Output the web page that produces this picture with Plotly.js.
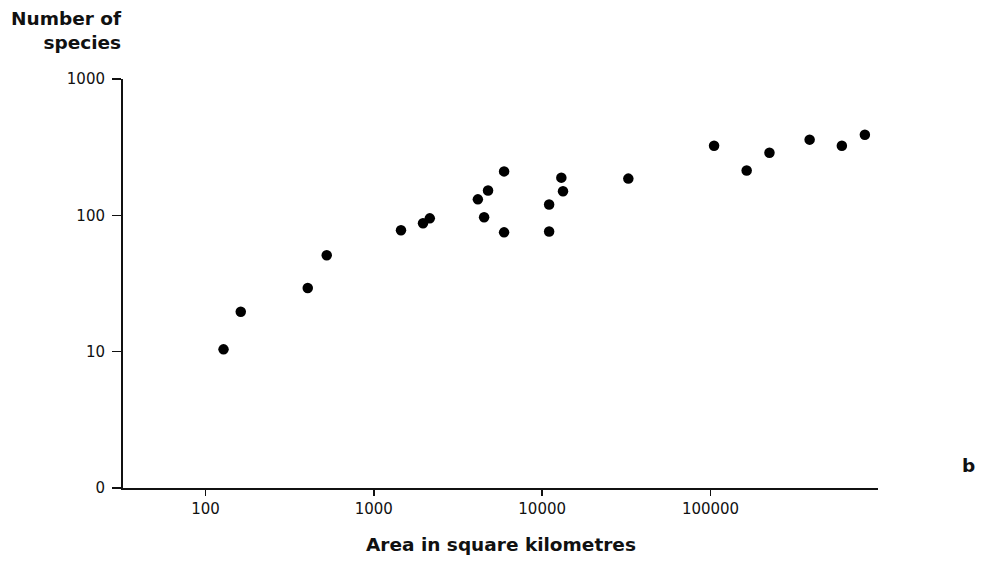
<!DOCTYPE html>
<html>
<head>
<meta charset="utf-8">
<script src="https://cdn.plot.ly/plotly-3.0.1.min.js"></script>
<style>html,body{margin:0;padding:0;background:#fff;}#chart{width:983px;height:562px;}</style>
</head>
<body>
<div id="chart"></div>
<script>
const areaKm2 = [128, 162, 405, 525, 1450, 1960, 2150, 4150, 4520, 4770, 5940, 5940, 11000, 11000, 13000, 13300, 32500, 105000, 164000, 224000, 388000, 603000, 826000];
const species = [10.4, 19.6, 29.3, 51, 77.8, 87.5, 95, 131, 96.7, 152, 210, 75, 120, 76, 189, 150, 186, 324, 213, 288, 359, 324, 390];
const xTickVals = [100, 1000, 10000, 100000];
const xTickText = ['100', '1000', '10000', '100000'];
const yTickVals = [1, 10, 100, 1000];
const yTickText = ['0', '10', '100', '1000'];

const trace = {
  x: areaKm2, y: species, type: 'scatter', mode: 'markers',
  marker: {color: '#000', size: 10.5, line: {width: 0}},
  hoverinfo: 'x+y'
};

const FONT = 'DejaVu Sans, Liberation Sans, Arial, sans-serif';

const layout = {
  width: 983, height: 562,
  margin: {l: 123, r: 105, t: 79, b: 74},
  paper_bgcolor: '#fff', plot_bgcolor: '#fff',
  showlegend: false,
  font: {family: FONT, color: '#111', size: 15},
  xaxis: {
    type: 'log', range: [1.51, 5.995],
    tickvals: xTickVals, ticktext: xTickText,
    showgrid: false, zeroline: false,
    showline: true, linecolor: '#111', linewidth: 2,
    ticks: 'outside', ticklen: 6, tickwidth: 1.5, tickcolor: '#111',
    tickfont: {family: FONT, size: 15, color: '#111'}
  },
  yaxis: {
    type: 'log', range: [0, 3],
    tickvals: yTickVals, ticktext: yTickText,
    showgrid: false, zeroline: false,
    showline: true, linecolor: '#111', linewidth: 2,
    ticks: 'outside', ticklen: 9, tickwidth: 1.5, tickcolor: '#111',
    ticklabelstandoff: 4,
    tickfont: {family: FONT, size: 15, color: '#111'}
  },
  annotations: [
    {text: '<b>Number of<br>species</b>', xref: 'paper', yref: 'paper', x: 0, y: 1,
     xanchor: 'right', yanchor: 'top', align: 'right', showarrow: false,
     yshift: 73, xshift: 1,
     font: {family: FONT, size: 18.5, color: '#111'}},
    {text: '<b>Area in square kilometres</b>', xref: 'paper', yref: 'paper', x: 0.5, y: 0,
     xanchor: 'center', yanchor: 'top', showarrow: false, yshift: -44,
     font: {family: FONT, size: 18.5, color: '#111'}},
    {text: '<b>b</b>', xref: 'paper', yref: 'paper', x: 1, y: 0.054,
     xanchor: 'center', yanchor: 'middle', showarrow: false, xshift: 90,
     font: {family: FONT, size: 18.5, color: '#111'}}
  ]
};

Plotly.newPlot('chart', [trace], layout, {displayModeBar: false, staticPlot: true});
</script>
</body>
</html>
